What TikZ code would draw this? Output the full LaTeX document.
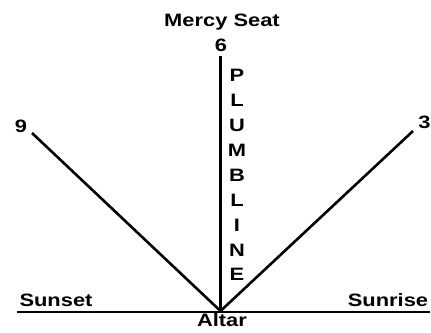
\documentclass[tikz,border=0pt]{standalone}
\usepackage{fontspec}
\setmainfont{Liberation Sans}[FakeStretch=1.22]
\begin{document}
\begin{tikzpicture}[x=1bp,y=-1bp,
  lbl/.style={inner sep=0pt,anchor=base,font=\bfseries\fontsize{18}{20}\selectfont},
  ln/.style={line width=2.6bp,black}]
\useasboundingbox (0,0) rectangle (431,333);
\coordinate (apex) at (220.5,311);
\coordinate (top) at (220.5,56);
\coordinate (left) at (32,133);
\coordinate (right) at (413,131);
\coordinate (hl) at (17,312);
\coordinate (hr) at (430,312);
\draw[ln] (hl) -- (hr);
\draw[ln] (top) -- (apex);
\draw[ln] (left) -- (apex);
\draw[ln] (right) -- (apex);
\node[lbl] (mercy) at (222,26.7) {Mercy Seat};
\node[lbl] (six) at (221,51.7) {6};
\node[lbl] (nine) at (21,132.7) {9};
\node[lbl] (three) at (424.5,128) {3};
\node[lbl] (sunset) at (56,306.7) {Sunset};
\node[lbl] (sunrise) at (388,306.7) {Sunrise};
\node[lbl] (altar) at (222,326.7) {Altar};
\foreach \ch [count=\i from 0] in {P,L,U,M,B,L,I,N,E}
  \node[lbl] (pl\i) at (237,81.7+24.9*\i) {\ch};
\end{tikzpicture}
\end{document}
